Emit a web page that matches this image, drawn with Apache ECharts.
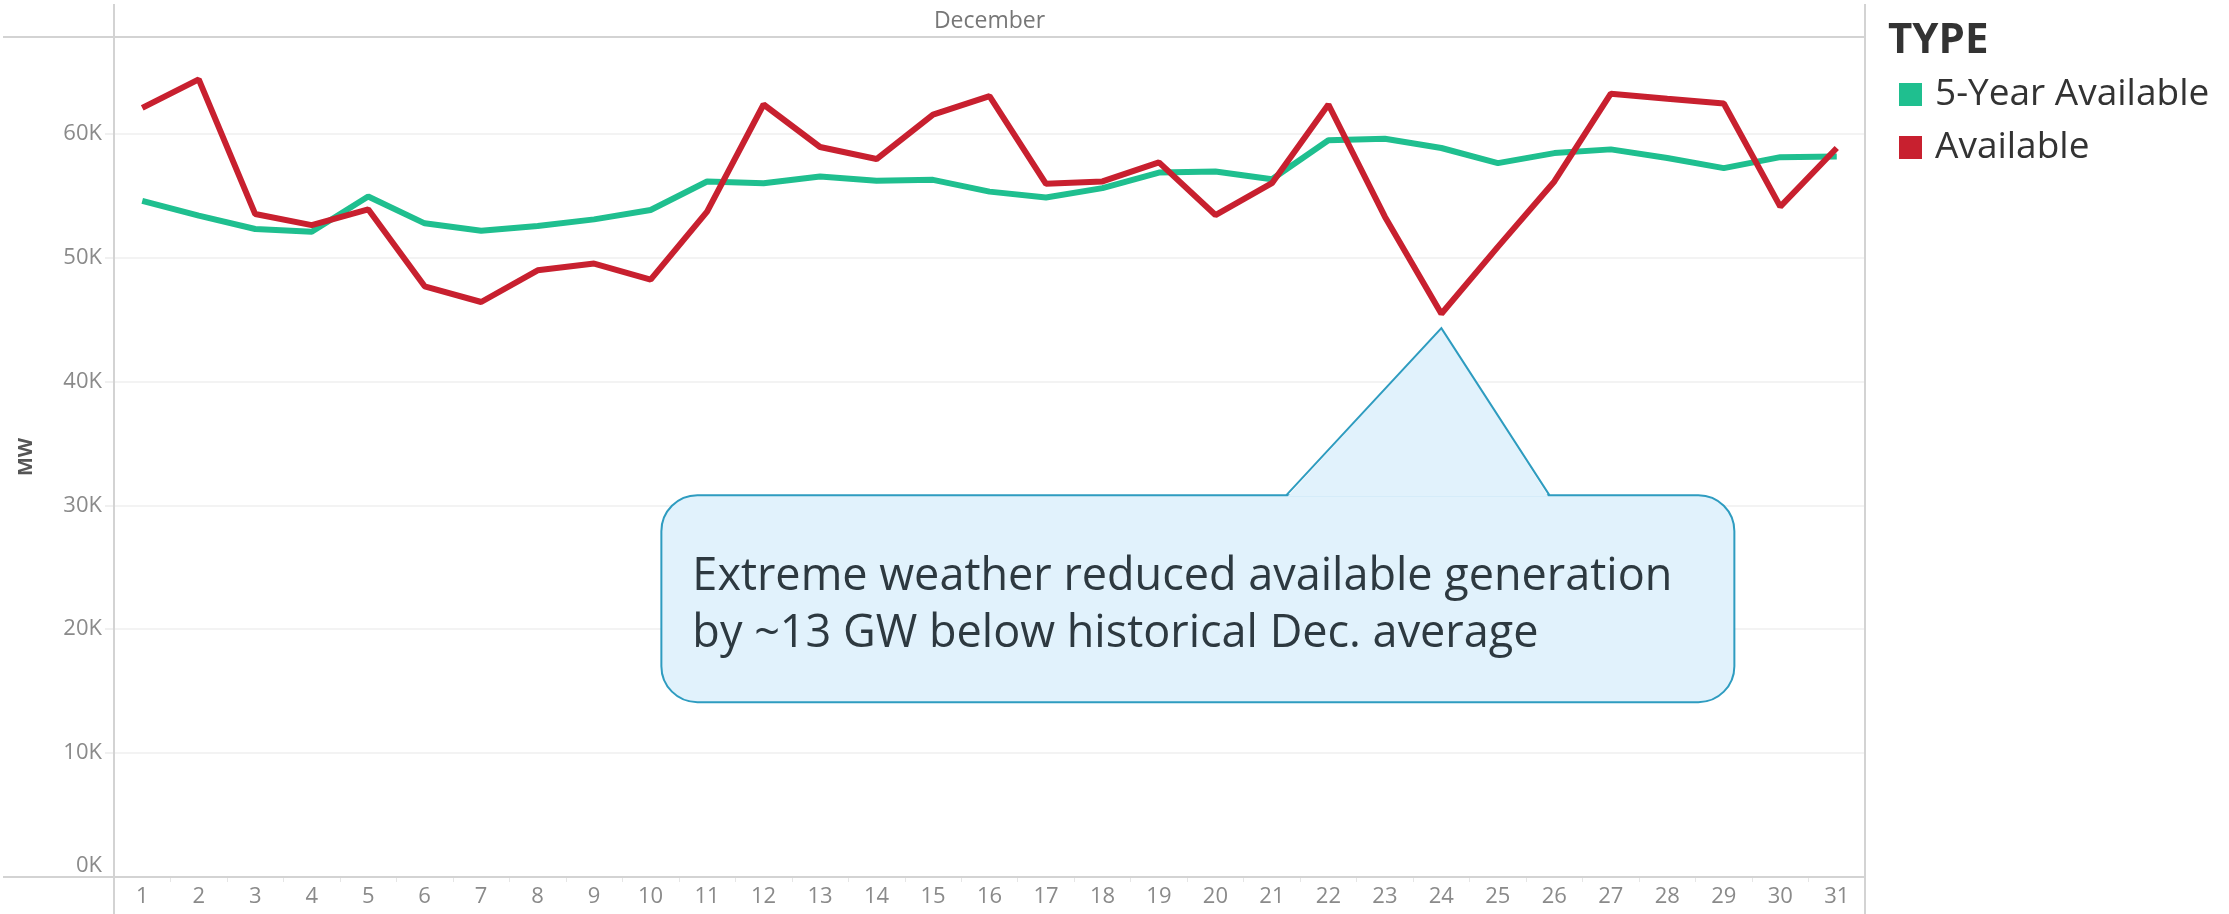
<!DOCTYPE html>
<html>
<head>
<meta charset="utf-8">
<script src="https://cdn.jsdelivr.net/npm/echarts@6/dist/echarts.min.js"></script>
<style>
html, body { margin: 0; padding: 0; background: #fff; }
#chart { width: 2229px; height: 914px; }
</style>
</head>
<body>
<div id="chart"></div>
<script>
// days of December
var days = ['1', '2', '3', '4', '5', '6', '7', '8', '9', '10', '11', '12', '13', '14', '15', '16',
	'17', '18', '19', '20', '21', '22', '23', '24', '25', '26', '27', '28', '29', '30', '31'];

// MW
var fiveYearAvailable = [54570, 53380, 52300, 52080, 54920, 52760, 52160, 52540, 53080, 53840, 56140,
	56000, 56540, 56190, 56270, 55320, 54840, 55600, 56860, 56950, 56320, 59460, 59590, 58840,
	57620, 58430, 58730, 58030, 57220, 58100, 58160];
var available = [62080, 64380, 53510, 52620, 53890, 47680, 46410, 48970, 49510, 48220, 53700,
	62350, 58920, 57950, 61540, 63030, 55950, 56140, 57680, 53430, 56000, 62350, 53300, 45460,
	50860, 56140, 63220, 62810, 62430, 54110, 58840];

var yTicks = [0, 10000, 20000, 30000, 40000, 50000, 60000];

var note = 'Extreme weather reduced available generation\nby ~13 GW below historical Dec. average';

var FONT = 'Open Sans';
var GREEN = '#1fbf8f';
var RED = '#c8202f';
var FRAME = '#d3d3d3';

var chart = echarts.init(document.getElementById('chart'));

var gridL = 114, gridR = 1865, gridT = 37, gridB = 877;

var option = {
	animation: false,
	backgroundColor: '#fff',
	textStyle: { fontFamily: FONT },
	title: {
		text: 'TYPE',
		left: 1888,
		top: 20,
		padding: 0,
		textStyle: { fontFamily: FONT, fontSize: 42, fontWeight: 'bold', color: '#333', lineHeight: 42 }
	},
	legend: {
		orient: 'vertical',
		left: 1899,
		top: 76,
		padding: 0,
		itemWidth: 23,
		itemHeight: 23,
		itemGap: 16,
		icon: 'rect',
		textStyle: { fontFamily: FONT, fontSize: 37, color: '#333', lineHeight: 36, padding: [0, 0, 0, 8] },
		data: ['5-Year Available', 'Available']
	},
	grid: {
		left: gridL,
		right: 2229 - gridR,
		top: gridT,
		bottom: 914 - gridB
	},
	xAxis: {
		type: 'category',
		data: days,
		boundaryGap: true,
		axisLine: { show: false },
		axisTick: { show: true, length: 5, interval: 0, lineStyle: { color: '#e6e6e6', width: 1 } },
		axisLabel: { color: '#8a8a8a', fontSize: 22, margin: 9, interval: 0, fontFamily: FONT }
	},
	yAxis: {
		type: 'value',
		min: 0,
		max: 67800,
		interval: 10000,
		name: 'MW',
		nameLocation: 'middle',
		nameRotate: 90,
		nameGap: 78,
		nameTextStyle: { color: '#555', fontSize: 20, fontWeight: 'bold', fontFamily: FONT },
		axisLine: { show: false },
		axisTick: { show: true, length: 9, lineStyle: { color: '#ececec', width: 1.5 } },
		axisLabel: {
			color: '#8a8a8a',
			fontSize: 22,
			margin: 12,
			fontFamily: FONT,
			showMaxLabel: false,
			verticalAlignMinLabel: 'bottom',
			formatter: function (v) {
				return yTicks.indexOf(v) >= 0 ? (v / 1000) + 'K' : '';
			}
		},
		splitLine: { lineStyle: { color: '#efefef', width: 1.5 } }
	},
	series: [
		{
			name: '5-Year Available',
			type: 'line',
			data: fiveYearAvailable,
			symbol: 'none',
			itemStyle: { color: GREEN },
			lineStyle: { color: GREEN, width: 6 }
		},
		{
			name: 'Available',
			type: 'line',
			data: available,
			symbol: 'none',
			itemStyle: { color: RED },
			lineStyle: { color: RED, width: 6 }
		}
	]
};

chart.setOption(option);

// callout pointing at the dip on day 24
var apex = chart.convertToPixel({ gridIndex: 0 }, ['24', 44300]);
var boxL = apex[0] - 780, boxR = apex[0] + 293;
var boxT = apex[1] + 167, boxB = apex[1] + 374;
var baseL = apex[0] - 155, baseR = apex[0] + 108;
var FILL = '#e1f2fc', EDGE = '#2e9cc0';

chart.setOption({
	graphic: [
		// frame lines (Tableau style)
		{ type: 'line', shape: { x1: 3, y1: gridT, x2: gridR, y2: gridT }, style: { stroke: FRAME, lineWidth: 2 }, z: 10 },
		{ type: 'line', shape: { x1: 3, y1: gridB, x2: gridR, y2: gridB }, style: { stroke: FRAME, lineWidth: 2 }, z: 10 },
		{ type: 'line', shape: { x1: gridL, y1: 4, x2: gridL, y2: 914 }, style: { stroke: FRAME, lineWidth: 2 }, z: 10 },
		{ type: 'line', shape: { x1: gridR, y1: 4, x2: gridR, y2: 914 }, style: { stroke: FRAME, lineWidth: 2 }, z: 10 },
		{
			type: 'text',
			x: (gridL + gridR) / 2,
			y: 21,
			style: { text: 'December', fontFamily: FONT, fontSize: 23, fill: '#777', align: 'center', verticalAlign: 'middle' },
			z: 10
		},
		// callout
		{
			type: 'rect',
			shape: { x: boxL, y: boxT, width: boxR - boxL, height: boxB - boxT, r: 36 },
			style: { fill: FILL, stroke: EDGE, lineWidth: 2 },
			z: 20
		},
		{
			type: 'polygon',
			shape: { points: [[baseL + 1, boxT + 1.5], apex, [baseR - 1, boxT + 1.5]] },
			style: { fill: FILL },
			z: 21
		},
		{
			type: 'polyline',
			shape: { points: [[baseL, boxT], apex, [baseR, boxT]] },
			style: { stroke: EDGE, lineWidth: 2, fill: null },
			z: 22
		},
		{
			type: 'text',
			x: boxL + 31,
			y: boxT + 54,
			style: { text: note, fontFamily: FONT, fontSize: 45, lineHeight: 57, fill: '#2d3940', verticalAlign: 'top' },
			z: 23
		}
	]
});
</script>
</body>
</html>
